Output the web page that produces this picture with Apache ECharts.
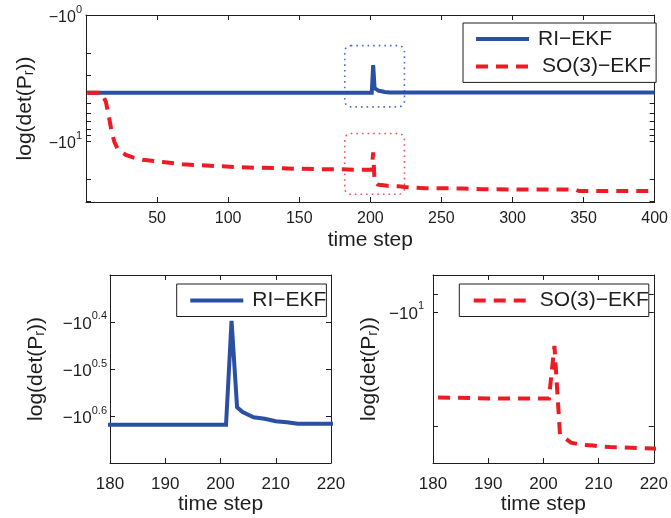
<!DOCTYPE html>
<html>
<head>
<meta charset="utf-8">
<script src="https://cdn.jsdelivr.net/npm/echarts@6/dist/echarts.min.js"></script>
<style>
  html, body { margin: 0; padding: 0; background: #fff; }
  #chart { width: 671px; height: 518px; }
</style>
</head>
<body>
<div id="chart"></div>
<script>
// log(det(P_r)) per time step for the two filters (sparse breakpoints of each curve)
const riSteps  = [1, 201, 202, 203, 204, 206, 208, 210, 212, 214, 400];
const riValues = [-4.15, -4.15, -2.50, -3.81, -3.90, -4.00, -4.03, -4.08, -4.10, -4.13, -4.13];

const soSteps  = [1, 11, 12, 14, 16, 18, 20, 22, 25, 28, 33, 40, 54, 68, 81, 96, 106, 119, 133, 147, 161, 180, 190, 201, 202, 203, 205, 207, 209, 212, 216, 220, 224, 238, 265, 279, 344, 347, 400];
const soValues = [-4.15, -4.15, -4.3, -4.9, -6.3, -8.4, -10.2, -11.4, -12.2, -12.9, -13.5, -14.1, -14.7, -15.3, -15.6, -15.9, -16.1, -16.3, -16.4, -16.6, -16.7, -16.8, -16.9, -16.9, -12.3, -21.0, -22.1, -22.4, -22.5, -22.7, -22.8, -22.9, -23.2, -23.7, -23.8, -24.2, -24.3, -25.0, -25.0];

// Tick labels (exponents of -10^e) and tick positions (magnitudes) per panel
const mainLabelExp   = [0, 1];
const mainTickMag    = [1, 2, 3, 4, 5, 6, 7, 8, 9, 10, 20, 30];
const riZoomLabelExp = [0.4, 0.5, 0.6];
const soZoomLabelExp = [1];
const soZoomTickMag  = [9, 10, 20];

// Dotted windows around the spike: [stepFrom, |value| top, stepTo, |value| bottom]
const riWindow = [182, 1.75, 224, 5.36];
const soWindow = [182, 8.73, 224, 26.5];

const NAME_RI = 'RI\u2212EKF';
const NAME_SO = 'SO(3)\u2212EKF';
const BLUE = '#2a4fa3';
const RED = '#ec1c24';
const INK = '#1e1e1e';
const FONT = '"Liberation Sans", Arial, Helvetica, sans-serif';
const DASH = [12, 8];

// The log axis works on magnitudes; the labels carry the minus sign
const pairs = (xs, ys) => xs.map((x, i) => [x, -ys[i]]);
const riData = pairs(riSteps, riValues);
const soData = pairs(soSteps, soValues);

function expText(v) {
  const e = Math.round(Math.log10(v) * 10) / 10;
  return String(e);
}

function xAxes(gridIndex, min, max, interval, fontSize, margin, nameGap) {
  const common = {
    gridIndex, type: 'value', min, max, interval,
    axisLine: { show: true, onZero: false, lineStyle: { color: INK, width: 1 } },
    axisTick: { show: true, inside: true, length: 5, lineStyle: { color: INK, width: 1 } },
    splitLine: { show: false }
  };
  return [
    Object.assign({}, common, {
      position: 'bottom',
      name: 'time step', nameLocation: 'middle', nameGap,
      nameTextStyle: { fontSize: 21, fontFamily: FONT, color: INK },
      axisLabel: { show: true, margin, fontSize, fontFamily: FONT, color: INK, showMinLabel: min !== 0 }
    }),
    Object.assign({}, common, { position: 'top', axisLabel: { show: false } })
  ];
}

function yAxes(gridIndex, min, max, labelExp, tickMag, fontSize, margin, nameGap) {
  const labelVals = labelExp.map(e => Math.pow(10, e));
  const common = {
    gridIndex, type: 'log', logBase: 10, min, max, inverse: true,
    axisLine: { show: true, onZero: false, lineStyle: { color: INK, width: 1 } },
    axisTick: { show: true, inside: true, length: 5, customValues: tickMag, lineStyle: { color: INK, width: 1 } },
    splitLine: { show: false },
    minorTick: { show: false }
  };
  return [
    Object.assign({}, common, {
      position: 'left',
      name: '{n|log(det(P}{s|r}{n|))}', nameLocation: 'middle', nameRotate: 90, nameGap,
      nameTextStyle: {
        color: INK,
        rich: {
          n: { fontSize: 21, fontFamily: FONT, color: INK, lineHeight: 21, verticalAlign: 'top' },
          s: { fontSize: 14, fontFamily: FONT, color: INK, lineHeight: 14, verticalAlign: 'bottom', padding: [10, 0, 0, 0] }
        }
      },
      axisLabel: {
        show: true, margin, customValues: labelVals,
        formatter: v => '{m|\u221210}{e|' + expText(v) + '}',
        rich: {
          m: { fontSize, fontFamily: FONT, color: INK, lineHeight: 22, verticalAlign: 'bottom' },
          e: { fontSize: 11, fontFamily: FONT, color: INK, lineHeight: 11, verticalAlign: 'top' }
        }
      }
    }),
    Object.assign({}, common, { position: 'right', axisLabel: { show: false } })
  ];
}

// Legend keys: solid or dashed 4px lines, no marker symbol
const legendItem = name => ({
  name,
  lineStyle: name === NAME_SO ? { width: 4, type: DASH, cap: 'butt' } : { width: 4, type: 'solid', cap: 'butt' }
});

function legendBox(left, top, names, padding, itemGap) {
  return {
    left, top, orient: 'vertical', data: names.map(legendItem), padding, itemGap,
    itemWidth: 53, itemHeight: 14, selectedMode: false,
    backgroundColor: '#fff', borderColor: INK, borderWidth: 1, borderRadius: 0,
    itemStyle: { opacity: 0, borderWidth: 0 },
    formatter: name => (name === NAME_SO ? '{s|' + name + '}' : '{r|' + name + '}'),
    textStyle: {
      fontSize: 21, fontFamily: FONT, color: INK, lineHeight: 24,
      rich: {
        r: { fontSize: 21, fontFamily: FONT, color: INK, lineHeight: 24, padding: [0, 0, 0, 4] },
        s: { fontSize: 21, fontFamily: FONT, color: INK, lineHeight: 24, padding: [0, 0, 0, 8] }
      }
    }
  };
}

function windowSeries(xi, yi, box, color) {
  return {
    type: 'custom', xAxisIndex: xi, yAxisIndex: yi, silent: true, z: 1,
    data: [box],
    renderItem: (params, api) => {
      const p0 = api.coord([api.value(0), api.value(1)]);
      const p1 = api.coord([api.value(2), api.value(3)]);
      return {
        type: 'rect',
        shape: {
          x: Math.min(p0[0], p1[0]), y: Math.min(p0[1], p1[1]),
          width: Math.abs(p1[0] - p0[0]), height: Math.abs(p1[1] - p0[1]), r: 6
        },
        style: { fill: 'none', stroke: color, lineWidth: 1.6, lineDash: [1.6, 4] }
      };
    }
  };
}

const riLine = (xi, yi) => ({
  name: NAME_RI, type: 'line', xAxisIndex: xi, yAxisIndex: yi, data: riData,
  symbol: 'none', z: 3, animation: false,
  lineStyle: { color: BLUE, width: 4, cap: 'butt', join: 'miter' },
  itemStyle: { color: BLUE }
});
const soLine = (xi, yi) => ({
  name: NAME_SO, type: 'line', xAxisIndex: xi, yAxisIndex: yi, data: soData,
  symbol: 'none', z: 4, animation: false,
  lineStyle: { color: RED, width: 4, type: DASH, cap: 'butt', join: 'miter' },
  itemStyle: { color: RED }
});

const option = {
  animation: false,
  backgroundColor: '#fff',
  grid: [
    { left: 86, right: 14, top: 15, height: 187 },
    { left: 110, width: 221, top: 275, height: 188 },
    { left: 433, width: 222, top: 275, height: 188 }
  ],
  xAxis: [
    ...xAxes(0, 0, 400, 50, 16, 9, 28),
    ...xAxes(1, 180, 220, 10, 17, 13, 29),
    ...xAxes(2, 180, 220, 10, 17, 13, 29)
  ],
  yAxis: [
    ...yAxes(0, 1, 30.5, mainLabelExp, mainTickMag, 16, 4, 50),
    ...yAxes(1, 2, 5, riZoomLabelExp, riZoomLabelExp.map(e => Math.pow(10, e)), 17, 3, 63),
    ...yAxes(2, 8, 25, soZoomLabelExp, soZoomTickMag, 17, 9, 53)
  ],
  legend: [
    legendBox(463, 23, [NAME_RI, NAME_SO], [4, 5, 4, 11], 3.4),
    legendBox(176.7, 284, [NAME_RI], [4.5, 0, 4, 11.6], 0),
    legendBox(459.3, 284, [NAME_SO], [4.5, 0, 4, 12.4], 0)
  ],
  series: [
    windowSeries(0, 0, riWindow, '#4a6fd0'),
    windowSeries(0, 0, soWindow, '#f0505c'),
    riLine(0, 0),
    soLine(0, 0),
    riLine(2, 2),
    soLine(4, 4)
  ]
};

const chart = echarts.init(document.getElementById('chart'), null, { renderer: 'canvas' });
chart.setOption(option);
</script>
</body>
</html>
